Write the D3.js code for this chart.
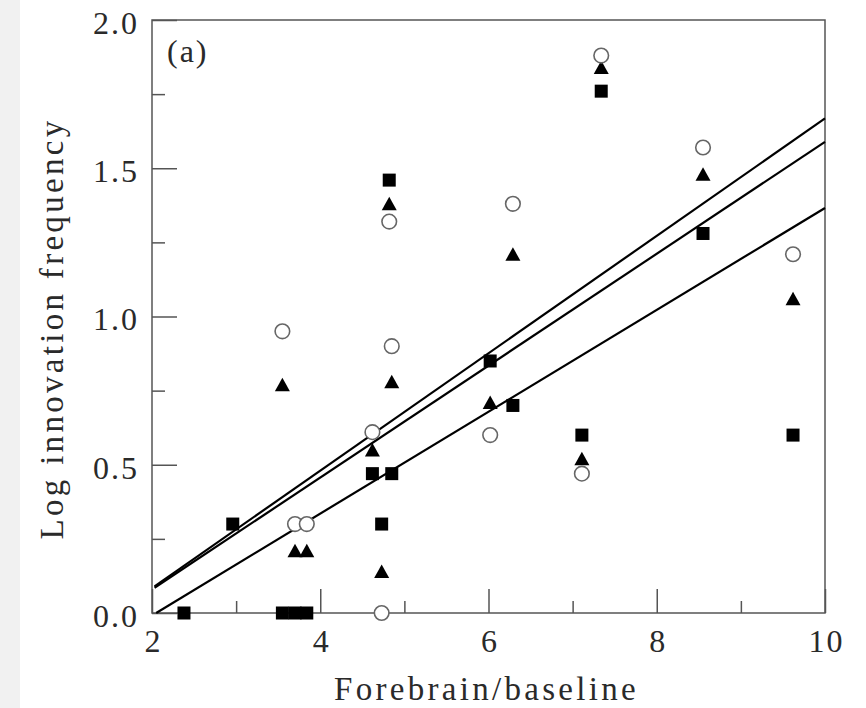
<!DOCTYPE html>
<html>
<head>
<meta charset="utf-8">
<script src="https://cdn.jsdelivr.net/npm/d3@7"></script>
<style>
body { margin: 0; background: #fff; }
svg { display: block; }
text { font-family: "Liberation Serif", "Times New Roman", serif; fill: #2a2a2a; }
</style>
</head>
<body>
<svg width="866" height="708"></svg>
<script>

// one entry per species: forebrain/baseline ratio and the three log innovation values
var forebrain = [2.38, 2.96, 3.55, 3.70, 3.84, 4.62, 4.73, 4.82, 4.85, 6.02, 6.29, 7.11, 7.34, 8.55, 9.62];
var squares   = [0,    0.30, 0,    0,    0,    0.47, 0.30, 1.46, 0.47, 0.85, 0.70, 0.60, 1.76, 1.28, 0.60];
var triangles = [null, null, 0.77, 0.21, 0.21, 0.55, 0.14, 1.38, 0.78, 0.71, 1.21, 0.52, 1.84, 1.48, 1.06];
var circles   = [null, null, 0.95, 0.30, 0.30, 0.61, 0,    1.32, 0.90, 0.60, 1.38, 0.47, 1.88, 1.57, 1.21];

// regression lines (slope, intercept, first x)
var fitSlope     = [0.198, 0.1887, 0.1718];
var fitIntercept = [-0.312, -0.298, -0.352];
var fitStart     = [2.03, 2.03, 2.05];

var xMajor = [2, 4, 6, 8, 10], xMinor = [3, 5, 7, 9];
var yMajor = [0, 0.5, 1, 1.5, 2], yMinor = [0.25, 0.75, 1.25, 1.75];

var svg = d3.select("svg");
var margin = {left: 152, top: 20, right: 41, bottom: 95};
var width = 866 - margin.left - margin.right,
    height = 708 - margin.top - margin.bottom;

// grey strip at the left edge of the page
svg.append("rect").attr("x", 0).attr("y", 0).attr("width", 20).attr("height", 708).attr("fill", "#f1f1f1");

var x = d3.scaleLinear().domain([2, 10]).range([0, width]);
var y = d3.scaleLinear().domain([0, 2]).range([height, 0]);

var g = svg.append("g").attr("transform", "translate(" + margin.left + "," + margin.top + ")");

var axisColor = "#555";

function styleAxis(sel) {
  sel.select(".domain").remove();
  sel.selectAll(".tick line").attr("stroke", axisColor).attr("stroke-width", 1.5);
  sel.selectAll("text").attr("font-size", 32).attr("letter-spacing", 2).attr("fill", "#2a2a2a");
}

g.append("g").attr("transform", "translate(0," + height + ")")
  .call(d3.axisBottom(x).tickValues(xMinor).tickSize(-12).tickFormat(""))
  .call(styleAxis);
g.append("g").attr("transform", "translate(0," + height + ")")
  .call(d3.axisBottom(x).tickValues(xMajor).tickSize(-24).tickPadding(14).tickFormat(d3.format("d")))
  .call(styleAxis)
  .selectAll("text").attr("dy", "0.78em").attr("dx", 1);

g.append("g")
  .call(d3.axisLeft(y).tickValues(yMinor).tickSize(-13).tickFormat(""))
  .call(styleAxis);
g.append("g")
  .call(d3.axisLeft(y).tickValues(yMajor).tickSize(-25).tickPadding(13).tickFormat(d3.format(".1f")))
  .call(styleAxis)
  .selectAll("text").attr("dy", "0.42em");

// frame
g.append("rect").attr("width", width).attr("height", height)
  .attr("fill", "none").attr("stroke", axisColor).attr("stroke-width", 1.5);

// fit lines
var line = d3.line().x(function(d) { return x(d[0]); }).y(function(d) { return y(d[1]); });
fitSlope.forEach(function(s, i) {
  var pts = [fitStart[i], 10].map(function(v) { return [v, fitIntercept[i] + s * v]; });
  g.append("path").attr("d", line(pts)).attr("fill", "none").attr("stroke", "#000").attr("stroke-width", 2.2);
});

var idx = d3.range(forebrain.length);

g.selectAll(".sq")
  .data(idx.filter(function(i) { return squares[i] != null; }))
  .enter().append("rect")
    .attr("class", "sq")
    .attr("x", function(i) { return x(forebrain[i]) - 6.5; })
    .attr("y", function(i) { return y(squares[i]) - 6.5; })
    .attr("width", 13).attr("height", 13)
    .attr("fill", "#000");

g.selectAll(".tri")
  .data(idx.filter(function(i) { return triangles[i] != null; }))
  .enter().append("path")
    .attr("class", "tri")
    .attr("d", function(i) {
      var cx = x(forebrain[i]), cy = y(triangles[i]);
      return "M" + cx + "," + (cy - 7) + "L" + (cx + 7.5) + "," + (cy + 6.5) + "L" + (cx - 7.5) + "," + (cy + 6.5) + "Z";
    })
    .attr("fill", "#000");

g.selectAll(".circ")
  .data(idx.filter(function(i) { return circles[i] != null; }))
  .enter().append("circle")
    .attr("class", "circ")
    .attr("cx", function(i) { return x(forebrain[i]); })
    .attr("cy", function(i) { return y(circles[i]); })
    .attr("r", 7.3)
    .attr("fill", "#fff").attr("stroke", "#666").attr("stroke-width", 1.6);

// panel tag and axis titles
g.append("text").attr("x", 15).attr("y", 42).attr("font-size", 32).attr("letter-spacing", 2).text("(a)");

svg.append("text")
  .attr("x", margin.left + width / 2 - 2).attr("y", 700)
  .attr("text-anchor", "middle").attr("font-size", 33).attr("letter-spacing", 3.3)
  .text("Forebrain/baseline");

svg.append("text")
  .attr("transform", "translate(63," + (margin.top + height / 2 + 12) + ") rotate(-90)")
  .attr("text-anchor", "middle").attr("font-size", 33).attr("letter-spacing", 3.3)
  .text("Log innovation frequency");
</script>
</body>
</html>
